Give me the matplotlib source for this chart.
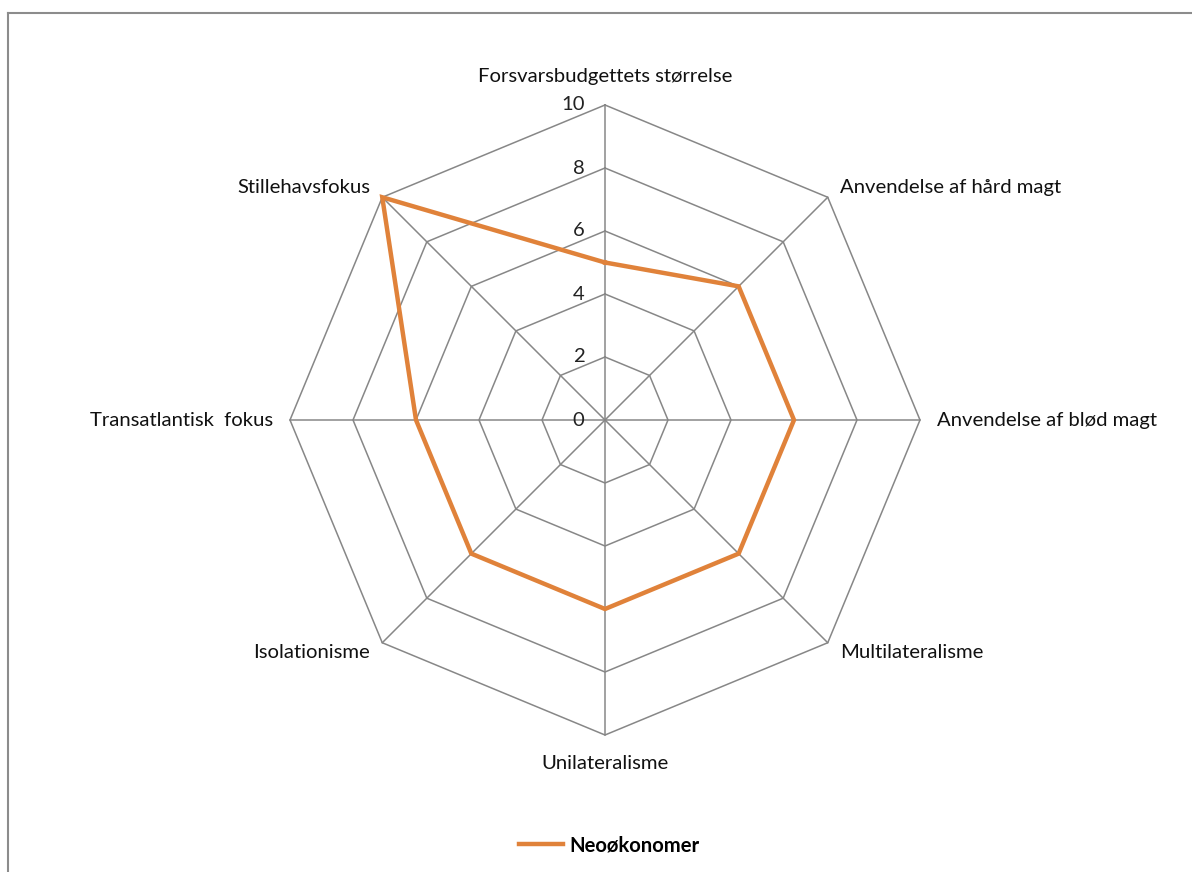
import numpy as np
import matplotlib
matplotlib.use('Agg')
import matplotlib.pyplot as plt
from matplotlib.lines import Line2D

plt.rcParams['font.family'] = ['Lato', 'DejaVu Sans']

categories = ['Forsvarsbudgettets størrelse', 'Anvendelse af hård magt',
              'Anvendelse af blød magt', 'Multilateralisme', 'Unilateralisme',
              'Isolationisme', 'Transatlantisk  fokus', 'Stillehavsfokus']
values = [5, 6, 6, 6, 6, 6, 6, 10]
series_name = 'Neoøkonomer'
ticks = [0, 2, 4, 6, 8, 10]

W, H = 1192, 872
cx, cy, scale = 605, 420, 31.5   # centre (px) and px per unit

fig = plt.figure(figsize=(W / 100, H / 100), dpi=100)
ax = fig.add_axes([0, 0, 1, 1])
ax.set_xlim(-cx / scale, (W - cx) / scale)
ax.set_ylim(-(H - cy) / scale, cy / scale)
ax.axis('off')

n = len(categories)
ang = np.arange(n) * 2 * np.pi / n
sx, sy = np.sin(ang), np.cos(ang)

grid_c = '#878787'
for t in ticks[1:]:
    ax.plot(np.append(sx, sx[0]) * t, np.append(sy, sy[0]) * t, color=grid_c, lw=1.1, zorder=1)
for i in range(n):
    ax.plot([0, sx[i] * ticks[-1]], [0, sy[i] * ticks[-1]], color=grid_c, lw=1.1, zorder=1)

fs = 14.6
for t in ticks:
    ax.text(-0.65, t, str(t), ha='right', va='center', fontsize=fs, color='#222222')

v = np.array(values, dtype=float)
ax.plot(np.append(sx * v, sx[0] * v[0]), np.append(sy * v, sy[0] * v[0]),
        color='#E0823A', lw=3.2, solid_joinstyle='miter', zorder=3)

for i, lab in enumerate(categories):
    if abs(sx[i]) < 1e-6:
        x, y, ha = 0, np.sign(sy[i]) * 10.9, 'center'
    elif abs(sy[i]) < 1e-6:
        x, y = np.sign(sx[i]) * 10.55, 0
        ha = 'left' if sx[i] > 0 else 'right'
    else:
        x = np.sign(sx[i]) * 7.46
        y = np.sign(sy[i]) * 7.37
        ha = 'left' if sx[i] > 0 else 'right'
    ax.text(x, y, lab, ha=ha, va='center', fontsize=fs, color='#111111')

handle = Line2D([], [], color='#E0823A', lw=3.2)
fig.legend([handle], [series_name], loc='center', bbox_to_anchor=(609 / W, 1 - 845 / H),
           frameon=False, prop={'weight': 'bold', 'size': fs}, handlelength=2.2,
           handletextpad=0.3)

# chart border (top and left visible)
fig.add_artist(Line2D([8 / W, 1], [1 - 13 / H, 1 - 13 / H], color='#8c8c8c', lw=1.5,
                      transform=fig.transFigure))
fig.add_artist(Line2D([8 / W, 8 / W], [0, 1 - 13 / H], color='#8c8c8c', lw=1.5,
                      transform=fig.transFigure))

fig.savefig('out.png', dpi=100)
